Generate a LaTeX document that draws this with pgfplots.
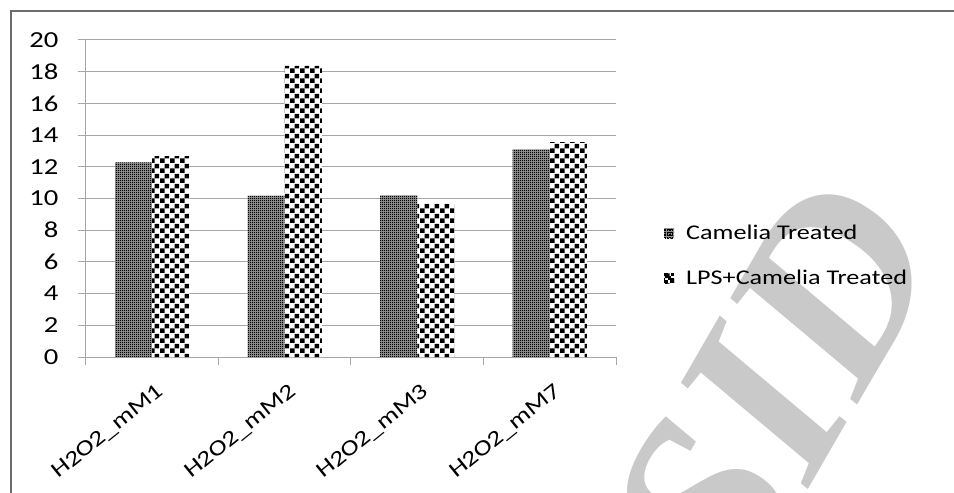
\documentclass[border=0pt]{standalone}
\usepackage{fontspec}
\setmainfont{Carlito}[FakeStretch=1.25]
\newfontfamily\wmfont{Liberation Serif}
\usepackage{pgfplots}
\pgfplotsset{compat=1.18}
\usetikzlibrary{patterns.meta}
\tikzdeclarepattern{
  name=bigcheck,
  type=uncolored,
  bounding box={(0bp,0bp) and (10bp,10bp)},
  tile size={(10bp,10bp)},
  code={
    \fill (0bp,0bp) rectangle (5bp,5bp);
    \fill (5bp,5bp) rectangle (10bp,10bp);
  }
}
\tikzdeclarepattern{
  name=smalldots,
  type=uncolored,
  bounding box={(0bp,0bp) and (2.4bp,2.4bp)},
  tile size={(2.4bp,2.4bp)},
  code={
    \fill (0bp,0bp) rectangle (1.3bp,1.3bp);
  }
}
\begin{document}
\begin{tikzpicture}
\useasboundingbox (-86bp,-136bp) rectangle (868bp,357bp);
\clip (-86bp,-136bp) rectangle (868bp,357bp);
\node[rotate=60, text=gray!42, font=\wmfont\bfseries\itshape\fontsize{250}{250}\selectfont] at (688bp,-30bp) {SID};
\draw[gray!85!black, line width=2.5bp] (-75bp,-140bp) -- (-75bp,346bp) -- (870bp,346bp);
\begin{axis}[
  scale only axis, width=530bp, height=317bp,
  xmin=-0.5, xmax=3.5, ymin=0, ymax=20,
  ybar=0pt, bar width=0.28,
  axis x line=bottom, axis y line=left,
  axis line style={gray!70, line width=1bp, -},
  ytick={0,2,...,20},
  ymajorgrids, grid style={gray!70, line width=1bp},
  tick align=outside, major tick length=8bp,
  tick style={gray!70, line width=1bp},
  xtick={-0.5,0.5,1.5,2.5,3.5},
  x tick label as interval,
  xticklabels={H2O2\_mM1,H2O2\_mM2,H2O2\_mM3,H2O2\_mM7},
  xticklabel style={rotate=39, anchor=north east, font=\fontsize{22}{22}\selectfont, text=black, yshift=-12bp, xshift=-5bp},
  yticklabel style={font=\fontsize{23}{23}\selectfont, text=black, xshift=-16bp},
  /pgf/number format/assume math mode=true,
  legend style={at={(1.085,0.32)}, anchor=west, draw=none, fill=none, font=\fontsize{21}{21}\selectfont, row sep=25bp,
    /tikz/every odd column/.style={column sep=10bp}},
  legend cell align=left,
]
\addplot[draw=none, fill=gray!85, postaction={pattern=smalldots, pattern color=black},
  legend image code/.code={\fill[gray!85] (0bp,-5bp) rectangle (10bp,5bp);
    \foreach \i in {0,2.5,5,7.5}{\foreach \j in {-5,-2.5,0,2.5}{\fill[black] (\i bp,\j bp) rectangle ++(1.3bp,1.3bp);}}}]
  coordinates {(0,12.28) (1,10.18) (2,10.2) (3,13.1)};
\addplot[draw=none, fill=white, postaction={pattern=bigcheck, pattern color=black},
  legend image code/.code={\fill[white] (0bp,-5bp) rectangle (10bp,5bp);
    \fill[black] (0bp,-5bp) rectangle ++(3.33bp,3.33bp);
    \fill[black] (6.67bp,-5bp) rectangle ++(3.33bp,3.33bp);
    \fill[black] (3.33bp,-1.67bp) rectangle ++(3.33bp,3.33bp);
    \fill[black] (0bp,1.67bp) rectangle ++(3.33bp,3.33bp);
    \fill[black] (6.67bp,1.67bp) rectangle ++(3.33bp,3.33bp);}]
  coordinates {(0,12.68) (1,18.36) (2,9.7) (3,13.55)};
\legend{Camelia Treated, LPS+Camelia Treated}
\end{axis}
\end{tikzpicture}
\end{document}
